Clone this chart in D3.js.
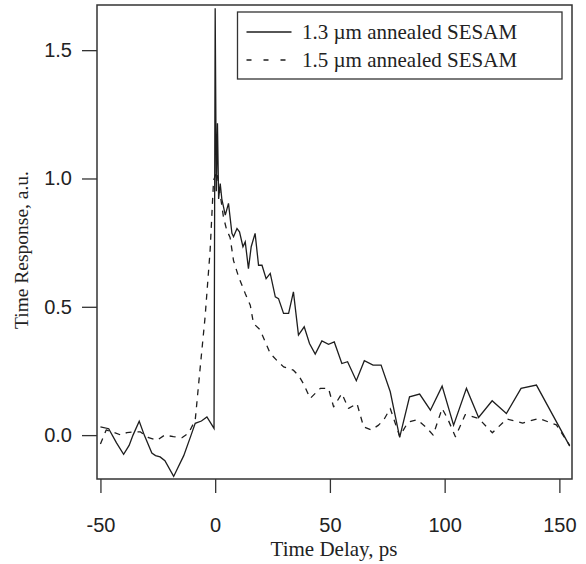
<!DOCTYPE html>
<html>
<head>
<meta charset="utf-8">
<script src="https://cdn.jsdelivr.net/npm/d3@7"></script>
<style>
  html, body { margin: 0; padding: 0; background: #fff; }
  svg { display: block; }
</style>
</head>
<body>
<svg id="chart" width="586" height="564"></svg>
<script>
// ---- data ----
const seriesNames = ["1.3 \u00b5m annealed SESAM", "1.5 \u00b5m annealed SESAM"];

const delay13 = [-50, -46.4, -43, -39.9, -37.5, -35.8, -33.1, -30.9, -27.6, -26,
  -24, -21.9, -18.1, -13.7, -10.5, -8.7, -6, -3.6, -0.5, 0,
  0.5, 1, 1.5, 2.2, 2.9, 4.4, 5.8, 7.3, 8, 9.5,
  10.6, 12.1, 13.1, 14.5, 15.7, 17.4, 18.9, 20.4, 22.2, 24,
  26.2, 27.6, 29.8, 32, 34.1, 36.3, 38.8, 41.1, 43.6, 46.5,
  49.4, 51.9, 55.2, 57.7, 61.5, 65, 68.8, 72.3, 76.3, 80.4,
  84.7, 89.1, 93.8, 98.9, 103.9, 109.5, 114.8, 120.7, 126.9, 133.3,
  140, 154.5];
const resp13 = [0.032, 0.025, -0.03, -0.075, -0.04, 0.0, 0.054, 0.0, -0.07, -0.08,
  -0.085, -0.10, -0.161, -0.08, 0.0, 0.046, 0.055, 0.071, 0.026, 1.663,
  0.95, 1.215, 0.92, 0.98, 0.92, 0.857, 0.903, 0.786, 0.773, 0.805,
  0.792, 0.734, 0.753, 0.649, 0.734, 0.786, 0.662, 0.662, 0.61, 0.63,
  0.539, 0.532, 0.474, 0.474, 0.558, 0.39, 0.422, 0.357, 0.316, 0.367,
  0.354, 0.363, 0.279, 0.286, 0.212, 0.29, 0.273, 0.273, 0.169, -0.009,
  0.149, 0.16, 0.097, 0.191, 0.039, 0.182, 0.069, 0.134, 0.084, 0.182,
  0.195, -0.043];

const delay15 = [-50, -47.5, -44, -41, -38.5, -35.5, -32.7, -29, -25.4, -22,
  -18.2, -14.5, -11.6, -8.7, -6.5, -4.4, -2.2, -0.7, 0.7, 2,
  3.6, 5, 6.5, 8, 10.2, 13.1, 15.3, 16.7, 19.6, 22,
  24, 27, 29.8, 34.1, 36.5, 38.5, 41.4, 45.8, 49.4, 51.6,
  55.2, 58.1, 61.8, 64.7, 68, 71.2, 73.5, 76.3, 80.4, 84,
  88, 92, 95, 98.9, 101.5, 104.7, 109, 114.8, 120.8, 127,
  134, 141, 148.7, 154.5];
const resp15 = [-0.035, 0.02, 0.01, 0.0, 0.01, 0.012, 0.013, -0.01, -0.02, 0.0,
  -0.006, -0.01, 0.008, 0.058, 0.266, 0.46, 0.72, 0.993, 1.026, 0.95,
  0.85, 0.80, 0.77, 0.68, 0.617, 0.552, 0.506, 0.435, 0.41, 0.36,
  0.318, 0.29, 0.266, 0.253, 0.23, 0.2, 0.143, 0.182, 0.182, 0.11,
  0.162, 0.104, 0.123, 0.032, 0.02, 0.039, 0.06, 0.104, -0.005, 0.05,
  0.06, 0.03, 0.0, 0.104, 0.06, -0.006, 0.08, 0.065, 0.009, 0.063,
  0.047, 0.065, 0.04, -0.04];

const xTicks = [-50, 0, 50, 100, 150];
const yTicks = [0.0, 0.5, 1.0, 1.5];
const xTitle = "Time Delay, ps";
const yTitle = "Time Response, a.u.";

// ---- layout ----
const svg = d3.select("#chart");
const L = 97, R = 572, T = 5, B = 479;
const x = d3.scaleLinear().domain([-51.5, 155.5]).range([L, R]);
const y = d3.scaleLinear().domain([-0.171, 1.676]).range([B, T]);
const ink = "#1e1e1e";
const frameColor = "#333";
const sans = "'Liberation Sans', Arial, sans-serif";
const serif = "'Liberation Serif', 'Times New Roman', serif";

// axes
const xAxis = d3.axisBottom(x).tickValues(xTicks).tickSize(14).tickPadding(25)
  .tickSizeOuter(0).tickFormat(d => String(d));
const yAxis = d3.axisLeft(y).tickValues(yTicks).tickSize(15).tickPadding(10)
  .tickSizeOuter(0).tickFormat(d3.format(".1f"));

const gx = svg.append("g").attr("transform", `translate(0,${B})`).call(xAxis);
const gy = svg.append("g").attr("transform", `translate(${L},0)`).call(yAxis);
[gx, gy].forEach(g => {
  g.select(".domain").remove();
  g.selectAll(".tick line").attr("stroke", frameColor).attr("stroke-width", 1.3);
  g.selectAll(".tick text").attr("fill", "#222").style("font-family", sans).style("font-size", "20px");
});

// clip
svg.append("clipPath").attr("id", "clip").append("rect")
  .attr("x", L).attr("y", T).attr("width", R - L).attr("height", B - T);

const line = d3.line().x(d => x(d[0])).y(d => y(d[1]));
const data13 = delay13.map((t, i) => [t, resp13[i]]);
const data15 = delay15.map((t, i) => [t, resp15[i]]);

const plot = svg.append("g").attr("clip-path", "url(#clip)");
plot.append("path").datum(data15).attr("d", line)
  .attr("fill", "none").attr("stroke", ink).attr("stroke-width", 1.3)
  .attr("stroke-dasharray", "6,6").attr("stroke-linejoin", "round");
plot.append("path").datum(data13).attr("d", line)
  .attr("fill", "none").attr("stroke", ink).attr("stroke-width", 1.3)
  .attr("stroke-linejoin", "miter");

// frame
svg.append("rect").attr("x", L).attr("y", T).attr("width", R - L).attr("height", B - T)
  .attr("fill", "none").attr("stroke", frameColor).attr("stroke-width", 1.5);

// titles
svg.append("text").attr("x", (L + R) / 2 - 0.5).attr("y", 556)
  .attr("text-anchor", "middle").style("font-family", serif).style("font-size", "21px")
  .attr("fill", "#222").text(xTitle);
svg.append("text").attr("transform", "translate(28,250) rotate(-90)")
  .attr("text-anchor", "middle").style("font-family", serif).style("font-size", "19.5px")
  .attr("fill", "#222").text(yTitle);

// legend
const lg = svg.append("g");
lg.append("rect").attr("x", 237.5).attr("y", 12).attr("width", 324.5).attr("height", 67)
  .attr("fill", "#fff").attr("stroke", frameColor).attr("stroke-width", 1.3);
const rows = [{ y: 32, dash: null }, { y: 60, dash: "5,12" }];
rows.forEach((r, i) => {
  const l = lg.append("line").attr("x1", 246.5).attr("x2", 291.5).attr("y1", r.y).attr("y2", r.y)
    .attr("stroke", ink).attr("stroke-width", 1.3);
  if (r.dash) l.attr("stroke-dasharray", r.dash);
  lg.append("text").attr("x", 302).attr("y", r.y + 7)
    .style("font-family", serif).style("font-size", "21px").attr("fill", "#222")
    .text(seriesNames[i]);
});
</script>
</body>
</html>
